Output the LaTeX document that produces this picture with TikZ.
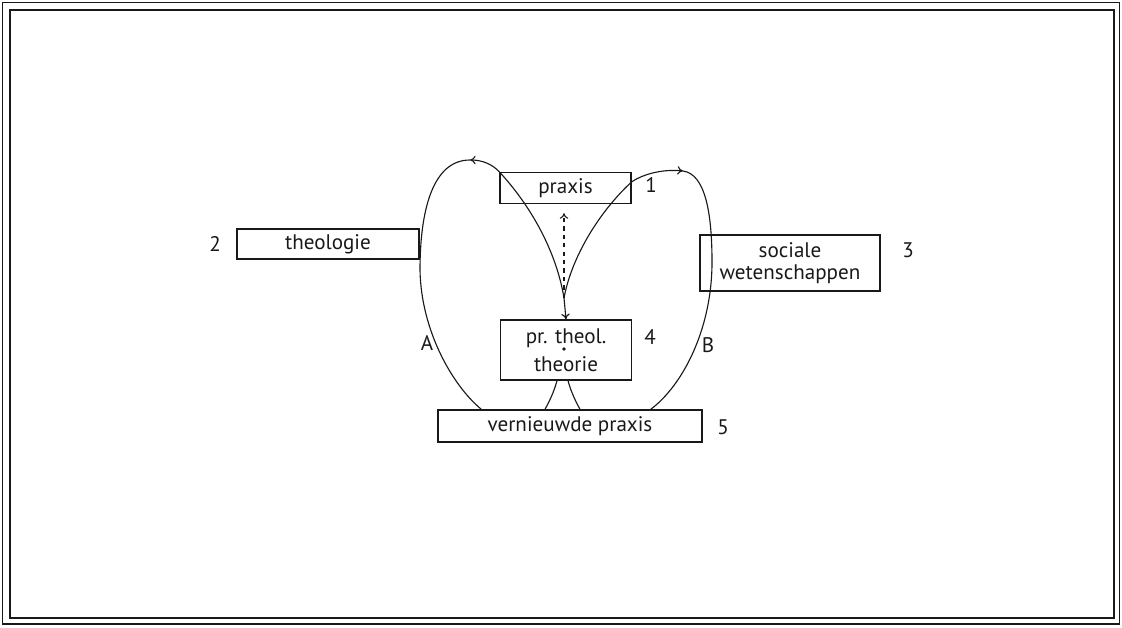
\documentclass[tikz,border=0pt]{standalone}
\usepackage{fontspec}
\setmainfont{PT Sans}
\usetikzlibrary{arrows.meta,calc}

\tikzset{
  vak/.style={draw, line width=1pt, inner sep=0pt, align=center, font=\fontsize{15}{18}\selectfont},
  nummer/.style={font=\fontsize{15}{18}\selectfont},
  lus/.style={line width=0.8pt},
  pijl/.style={lus, -{To[length=4pt,width=6pt]}}
}

\begin{document}
\begin{tikzpicture}[x=0.025cm, y=-0.025cm, black!90]
  \useasboundingbox (0,0) rectangle (1122,627);
  % dubbele kader
  \draw[line width=1.3pt] (2.5,2.5) rectangle (1119.5,624);
  \draw[line width=1pt] (10,10) rectangle (1114,618);

  % vakken
  \node[vak, minimum width=131*0.025cm, minimum height=31*0.025cm] (praxis) at (565.5,188) {praxis};
  \node[vak, minimum width=182*0.025cm, minimum height=30*0.025cm] (theologie) at (328,244) {theologie};
  \node[vak, minimum width=180*0.025cm, minimum height=56*0.025cm] (sociaal) at (790,263) {sociale\\[-2pt]wetenschappen};
  \node[vak, minimum width=131*0.025cm, minimum height=60*0.025cm] (theorie) at (566,350) {pr. theol.\\[2pt]theorie};
  \node[vak, minimum width=264*0.025cm, minimum height=32*0.025cm] (vernieuwd) at (570,426) {vernieuwde praxis};
  \fill (564,349) circle (1.3pt);

  % nummers
  \node[nummer] (n1) at (651,185) {1};
  \node[nummer] (n2) at (215,244) {2};
  \node[nummer] (n3) at (908,250) {3};
  \node[nummer] (n4) at (650,337) {4};
  \node[nummer] (n5) at (723,427) {5};
  \node[nummer] (lA) at (427,343) {A};
  \node[nummer] (lB) at (708,345) {B};

  % lussen A en B
  \coordinate (topA) at (470,160);
  \coordinate (topB) at (683,171);
  \coordinate (rechts) at ($(praxis.north east)+(0,10)$);
  \draw[pijl] (praxis.north west) .. controls (492,164) and (482,160) .. (topA);
  \draw[lus] (topA) .. controls (432,160) and (420,212) .. (420,270)
    .. controls (421,330) and (452,385) .. ($(vernieuwd.north west)+(44,0)$);
  \draw[pijl] (rechts) .. controls (645,173) and (665,169) .. (topB);
  \draw[lus] (topB) .. controls (705,174) and (712,212) .. (712,262)
    .. controls (712,330) and (682,386) .. ($(vernieuwd.north east)+(-52,0)$);

  % trechter
  \coordinate (punt) at (564,298);
  \draw[lus] (praxis.north west) .. controls (530,205) and (556,250) .. (punt);
  \draw[lus] (rechts) .. controls (601,210) and (572,255) .. (punt);
  \draw[pijl] (punt) -- (theorie.north);
  \draw[pijl, dashed] (punt) -- ($(praxis.south)+(-1.5,9)$);

  % naar vernieuwde praxis
  \draw[lus] ($(theorie.south)+(-9,0)$) .. controls (554,392) and (549,402) .. ($(vernieuwd.north)+(-25,0)$);
  \draw[lus] ($(theorie.south)+(2,0)$) .. controls (571,392) and (576,402) .. ($(vernieuwd.north)+(10,0)$);
\end{tikzpicture}
\end{document}
